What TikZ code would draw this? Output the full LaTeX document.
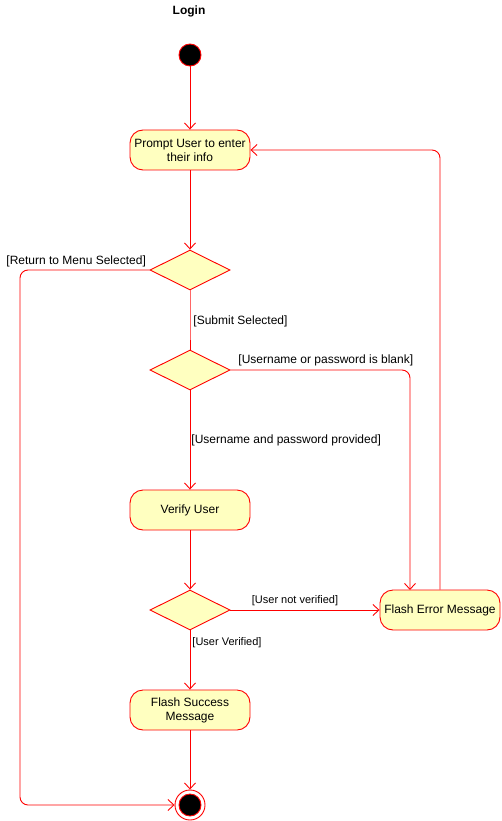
\documentclass[tikz,border=0pt]{standalone}
\usepackage{fontspec}
\setmainfont{Liberation Sans}
\usetikzlibrary{arrows.meta,shapes.geometric}
\definecolor{actfill}{HTML}{FFFFC0}

\begin{document}
\begin{tikzpicture}[x=1pt, y=-1pt, >={Straight Barb[length=6pt,width=11pt]},
  line width=0.9pt,
  act/.style={draw=red, fill=actfill, rounded corners=13pt, minimum width=120pt, minimum height=40pt, inner sep=0pt, align=center, font=\fontsize{12}{14}\selectfont},
  dec/.style={draw=red, fill=actfill, diamond, minimum width=80pt, minimum height=40pt, inner sep=0pt},
  flow/.style={red, ->},
  guard/.style={inner sep=0pt, anchor=west, font=\fontsize{12}{14}\selectfont},
  smallguard/.style={inner sep=0pt, font=\fontsize{11}{13}\selectfont}]
\useasboundingbox (0,0) rectangle (501,821);
\node[font=\fontsize{12}{14}\selectfont\bfseries] (title) at (189,11) {Login};
\node[circle, draw=red, fill=black, minimum size=22pt, inner sep=0pt] (start) at (190,55) {};
\node[act] (prompt) at (190,150) {Prompt User to enter\\their info};
\node[dec] (dec1) at (190,270) {};
\node[dec] (dec2) at (190,370) {};
\node[act] (verify) at (190,510) {Verify User};
\node[dec] (dec3) at (190,610) {};
\node[act] (error) at (440,610) {Flash Error Message};
\node[act] (success) at (190,710) {Flash Success\\Message};
\node[circle, draw=red, fill=white, minimum size=30pt, inner sep=0pt] (stop) at (190,805) {};
\node[circle, draw=red, fill=black, minimum size=22pt, inner sep=0pt] (stopdot) at (stop) {};
\coordinate (rail) at (20,805);
\coordinate (blankin) at (410,590);
\coordinate (submitmid) at (190,340);
\draw[flow] (start) -- (prompt);
\draw[flow] (prompt) -- (dec1);
\draw[flow, rounded corners=8pt] (dec1.west) -| (rail) -- (stop.west);
\draw[red!60] (dec1) -- (submitmid);
\draw[red] (submitmid) -- (dec2);
\draw[flow, rounded corners=8pt] (dec2.east) -| (blankin);
\draw[flow] (dec2) -- (verify);
\draw[flow] (verify) -- (dec3);
\draw[flow] (dec3) -- (error);
\draw[flow, rounded corners=8pt] (error.north) |- (prompt.east);
\draw[flow] (dec3) -- (success);
\draw[flow] (success) -- (stop);
\node[guard] (lreturn) at (6,261) {[Return to Menu Selected]};
\node[guard] (lsubmit) at (193,321) {[Submit Selected]};
\node[guard] (lblank) at (238,360) {[Username or password is blank]};
\node[guard] (lprovided) at (191,440) {[Username and password provided]};
\node[smallguard] (lnotver) at (295,601) {[User not verified]};
\node[smallguard, anchor=west] (lver) at (192,643) {[User Verified]};
\end{tikzpicture}
\end{document}
